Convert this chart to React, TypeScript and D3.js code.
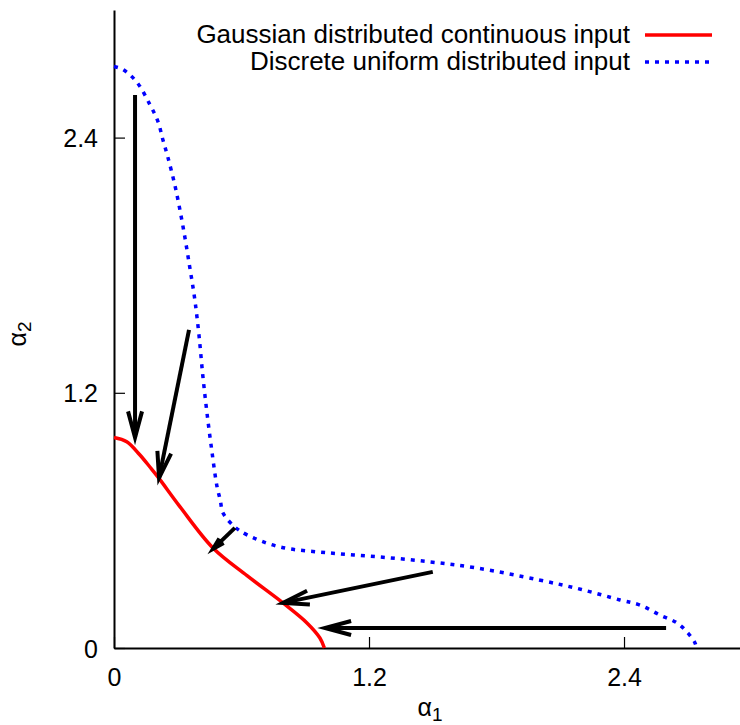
import React, { useEffect, useRef } from 'react'
import * as d3 from 'd3'

// curve: (alpha1, alpha2)
const gaussX = [0, 0.06, 0.12, 0.17, 0.21, 0.31, 0.466, 0.626, 0.795, 0.908, 0.969, 0.99]
const gaussY = [0.99, 0.97, 0.91, 0.85, 0.8, 0.665, 0.47, 0.34, 0.212, 0.118, 0.047, 0]

const discX = [0, 0.042, 0.108, 0.169, 0.207, 0.23, 0.254, 0.29, 0.325, 0.355, 0.38, 0.4, 0.418, 0.437, 0.46, 0.485, 0.5, 0.513, 0.569, 0.626, 0.781, 1.016, 1.252, 1.487, 1.708, 2.0, 2.2, 2.381, 2.475, 2.569, 2.649, 2.701, 2.734, 2.74]
const discY = [2.734, 2.72, 2.66, 2.555, 2.475, 2.39, 2.306, 2.16, 1.98, 1.8, 1.64, 1.47, 1.28, 1.11, 0.93, 0.758, 0.696, 0.635, 0.569, 0.532, 0.475, 0.447, 0.428, 0.405, 0.376, 0.32, 0.275, 0.226, 0.202, 0.155, 0.118, 0.07, 0.024, 0]

// arrows: from -> to
const arrowFromX = [0.099, 0.353, 0.569, 1.5, 2.598]
const arrowFromY = [2.6, 1.496, 0.565, 0.358, 0.094]
const arrowToX = [0.099, 0.212, 0.466, 0.795, 0.993]
const arrowToY = [0.99, 0.8, 0.466, 0.212, 0.094]

const tickValues = [0, 1.2, 2.4]
const legendLabels = ['Gaussian distributed continuous input', 'Discrete uniform distributed input']
const legendColors = ['#ff0000', '#0000ff']

const FONT = '"Liberation Sans", Arial, sans-serif'

function draw(svgEl: SVGSVGElement) {
    const svg = d3.select(svgEl)
    svg.selectAll('*').remove()

    const x = d3.scaleLinear().domain([0, 2.95]).range([114, 740.9])
    const y = d3.scaleLinear().domain([0, 3.0]).range([648, 10])

    // axes, ticks pointing inward
    const yAxis = d3.axisLeft(y).tickValues(tickValues).tickFormat(d3.format('.1~f'))
        .tickSizeInner(-11).tickSizeOuter(0).tickPadding(16)
    const xAxis = d3.axisBottom(x).tickValues(tickValues).tickFormat(d3.format('.1~f'))
        .tickSizeInner(-11).tickSizeOuter(0).tickPadding(20)

    const gy = svg.append('g').attr('transform', 'translate(114,0)').call(yAxis)
    const gx = svg.append('g').attr('transform', 'translate(0,648)').call(xAxis)
    ;[gx, gy].forEach(g => {
        g.select('.domain').attr('stroke', '#000').attr('stroke-width', 2)
        g.selectAll('.tick line').attr('stroke', '#000').attr('stroke-width', 1.2)
        g.selectAll('.tick text').attr('font-family', FONT).attr('font-size', 25).attr('fill', '#000')
    })
    gy.selectAll('.tick text').attr('dy', '0.36em')
    gx.selectAll('.tick text').attr('dy', '0.71em')

    // curves
    const line = d3.line<number>()
        .x(i => x(discX[i]))
        .y(i => y(discY[i]))
        .curve(d3.curveCatmullRom.alpha(0.5))
    svg.append('path')
        .attr('d', line(d3.range(discX.length)))
        .attr('fill', 'none')
        .attr('stroke', legendColors[1])
        .attr('stroke-width', 3.5)
        .attr('stroke-dasharray', '4,6')

    const gline = d3.line<number>()
        .x(i => x(gaussX[i]))
        .y(i => y(gaussY[i]))
        .curve(d3.curveCatmullRom.alpha(0.5))
    svg.append('path')
        .attr('d', gline(d3.range(gaussX.length)))
        .attr('fill', 'none')
        .attr('stroke', legendColors[0])
        .attr('stroke-width', 3.5)

    // arrows
    const ga = svg.append('g').attr('stroke', '#000').attr('stroke-width', 4).attr('fill', 'none')
    arrowFromX.forEach((_, i) => {
        const x1 = x(arrowFromX[i]), y1 = y(arrowFromY[i])
        const x2 = x(arrowToX[i]), y2 = y(arrowToY[i])
        const len = Math.hypot(x2 - x1, y2 - y1)
        const ang = Math.atan2(y2 - y1, x2 - x1)
        const head = Math.min(27, len * 0.4)
        const spread = 15 * Math.PI / 180
        const b1x = x2 - head * Math.cos(ang - spread), b1y = y2 - head * Math.sin(ang - spread)
        const b2x = x2 - head * Math.cos(ang + spread), b2y = y2 - head * Math.sin(ang + spread)
        ga.append('path').attr('d', `M${x1},${y1}L${x2},${y2}`)
        ga.append('path').attr('d', `M${b1x},${b1y}L${x2},${y2}L${b2x},${b2y}`)
            .attr('stroke-linejoin', 'miter')
    })

    // axis labels
    svg.append('text')
        .attr('x', 430).attr('y', 716)
        .attr('text-anchor', 'middle')
        .attr('font-family', FONT).attr('font-size', 25)
        .html('α<tspan font-size="19" dy="5">1</tspan>')
    svg.append('text')
        .attr('transform', 'translate(25.5,334) rotate(-90)')
        .attr('text-anchor', 'middle')
        .attr('font-family', FONT).attr('font-size', 25)
        .html('α<tspan font-size="19" dy="5">2</tspan>')

    // legend
    const lg = svg.append('g')
    legendLabels.forEach((label, i) => {
        const cy = 35 + i * 27
        lg.append('text')
            .attr('x', 630).attr('y', cy + 8)
            .attr('text-anchor', 'end')
            .attr('font-family', FONT).attr('font-size', 26)
            .text(label)
        lg.append('line')
            .attr('x1', 645).attr('x2', 712).attr('y1', cy).attr('y2', cy)
            .attr('stroke', legendColors[i])
            .attr('stroke-width', 3.5)
            .attr('stroke-dasharray', i === 1 ? '4,6' : null)
    })
}

export default function App() {
    const ref = useRef<SVGSVGElement>(null)

    useEffect(() => {
        if (ref.current) draw(ref.current)
    }, [])

    return (
        <svg ref={ref} width={740} height={725}
            style={{ position: 'absolute', left: 0, top: 0, background: '#fff' }} />
    )
}
